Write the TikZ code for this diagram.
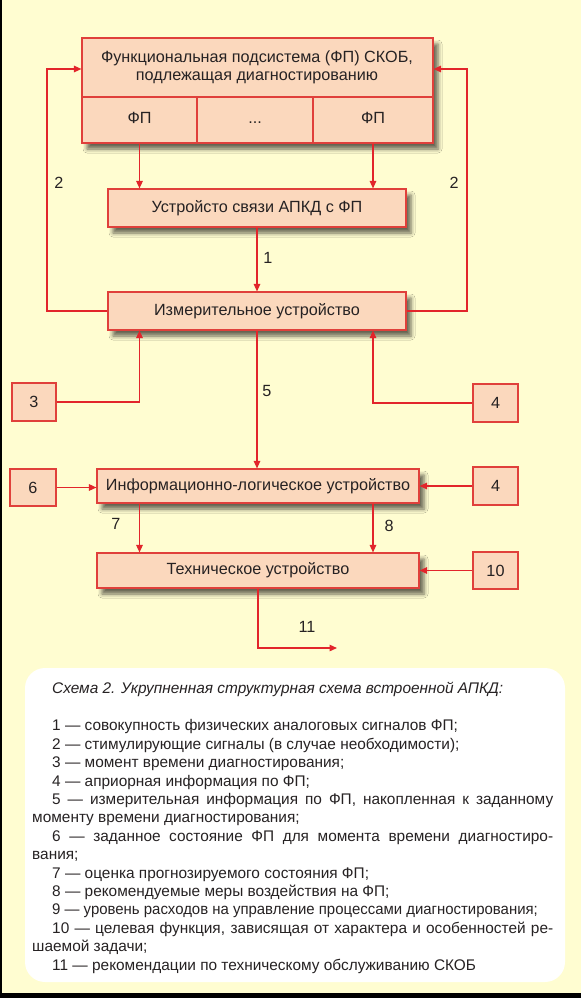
\documentclass[tikz,border=0pt]{standalone}
\usepackage{fontspec}
\setmainfont{Liberation Sans}
\usetikzlibrary{arrows.meta,shadows.blur}

\definecolor{fon}{HTML}{FFFDD1}
\definecolor{persik}{HTML}{FBD8BD}
\definecolor{ramka}{HTML}{E0403B}
\definecolor{strelka}{HTML}{E2252B}
\definecolor{tekst}{HTML}{262223}

\begin{document}
\begin{tikzpicture}[x=1pt,y=-1pt,
    blok/.style={draw=ramka, fill=persik, line width=1.1pt, inner sep=0pt,
        text=tekst, font=\fontsize{16.2}{19}\selectfont,
        blur shadow={shadow xshift=5pt, shadow yshift=-6pt, shadow blur radius=4pt, shadow opacity=60}},
    yach/.style={draw=ramka, fill=persik, line width=1.1pt, inner sep=0pt,
        minimum height=46pt, text height=1.6ex, text depth=.3ex,
        text=tekst, font=\fontsize{16.2}{19}\selectfont},
    vhod/.style={draw=ramka, fill=persik, line width=1.1pt, inner sep=0pt,
        minimum width=45pt, minimum height=38pt, text=tekst, font=\fontsize{16.2}{19}\selectfont},
    arr/.style={draw=strelka, line width=1.3pt, -{Triangle[length=7.5pt,width=6.5pt]}},
    num/.style={text=tekst, font=\fontsize{16.2}{19}\selectfont}]

    % background and frame
    \useasboundingbox (0,0) rectangle (581,998);
    \fill[fon] (0,0) rectangle (581,998);
    \fill[black] (0,0) rectangle (2,998);
    \fill[black] (0,993) rectangle (581,998);

    % functional subsystem
    \node[blok, minimum width=351pt, minimum height=105pt] (fps) at (257.5,90.5) {};
    \node[align=center, text=tekst, font=\fontsize{16.2}{18}\selectfont] (fpstitle) at (257,67)
        {Функциональная подсистема (ФП) СКОБ,\\подлежащая диагностированию};
    \node[yach, minimum width=115pt] (fpa) at (139.5,120) {ФП};
    \node[yach, minimum width=116pt] (fpdots) at (255,120) {...};
    \node[yach, minimum width=120pt] (fpb) at (373,120) {ФП};

    % devices
    \node[blok, minimum width=298pt, minimum height=38pt] (usv) at (257,208) {Устройсто связи АПКД с ФП};
    \node[blok, minimum width=298pt, minimum height=38pt] (izm) at (257,311) {Измерительное устройство};
    \node[blok, minimum width=322pt, minimum height=34pt] (ilu) at (258,486) {Информационно-логическое устройство};
    \node[blok, minimum width=322pt, minimum height=35pt] (tu) at (258,570.5) {Техническое устройство};

    % inputs
    \node[vhod, minimum width=44pt] (in3) at (34,402) {3};
    \node[vhod] (in4a) at (495.5,403) {4};
    \node[vhod, minimum width=46pt, minimum height=37pt] (in6) at (33,487.5) {6};
    \node[vhod] (in4b) at (495.5,486) {4};
    \node[vhod, minimum height=37pt] (in10) at (495.5,570.5) {10};

    % connectors
    \draw[arr] (fpa.south) -- (fpa.south |- usv.north);
    \draw[arr] (fpb.south) -- (fpb.south |- usv.north);
    \draw[arr] (usv.south) -- (izm.north);
    \coordinate (fbl) at (47,69);
    \coordinate (fbr) at (467,69);
    \draw[arr] (izm.west) -| (fbl) -- (fbl -| fps.west);
    \draw[arr] (izm.east) -| (fbr) -- (fbr -| fps.east);
    \draw[arr] (in3.east) -| (izm.south -| fpa.south);
    \draw[arr] (in4a.west) -| (izm.south -| fpb.south);
    \draw[arr] (izm.south) -- (izm.south |- ilu.north);
    \draw[arr] (in6.east) -- (in6.east -| ilu.west);
    \draw[arr] (in4b.west) -- (in4b.west -| ilu.east);
    \draw[arr] (ilu.south -| fpa.south) -- (tu.north -| fpa.south);
    \draw[arr] (ilu.south -| fpb.south) -- (tu.north -| fpb.south);
    \draw[arr] (in10.west) -- (in10.west -| tu.east);
    \coordinate (vyhod) at (337,648);
    \draw[arr] (tu.south) |- (vyhod);

    % numbers
    \node[num] (n2l) at (59,183) {2};
    \node[num] (n2r) at (454,183) {2};
    \node[num] (n1) at (268,258) {1};
    \node[num] (n5) at (267,391) {5};
    \node[num] (n7) at (116,524) {7};
    \node[num] (n8) at (389,526) {8};
    \node[num] (n11) at (307,627) {11};

    % caption
    \fill[white, rounded corners=20pt] (25,668) rectangle (565,982);
    \node[anchor=north west, inner sep=0pt, text width=521pt, align=justify, text=tekst,
        font=\fontsize{15.4}{18.4}\selectfont] (podpis) at (32,682) {%
        \setlength{\parindent}{20pt}\emergencystretch=20pt
        \hspace*{20pt}{\itshape Схема 2. Укрупненная структурная схема встроенной АПКД:}\par
        \vspace{19pt}
        1 — совокупность физических аналоговых сигналов ФП;\par
        2 — стимулирующие сигналы (в случае необходимости);\par
        3 — момент времени диагностирования;\par
        4 — априорная информация по ФП;\par
        5 — измерительная информация по ФП, накопленная к заданному\linebreak моменту времени диагностирования;\par
        6 — заданное состояние ФП для момента времени диагностиро-\linebreak вания;\par
        7 — оценка прогнозируемого состояния ФП;\par
        8 — рекомендуемые меры воздействия на ФП;\par
        {\addfontfeature{FakeStretch=0.97}9 — уровень расходов на управление процессами диагностирования;}\par
        10 — целевая функция, зависящая от характера и особенностей ре-\linebreak шаемой задачи;\par
        11 — рекомендации по техническому обслуживанию СКОБ\par};

\end{tikzpicture}
\end{document}
